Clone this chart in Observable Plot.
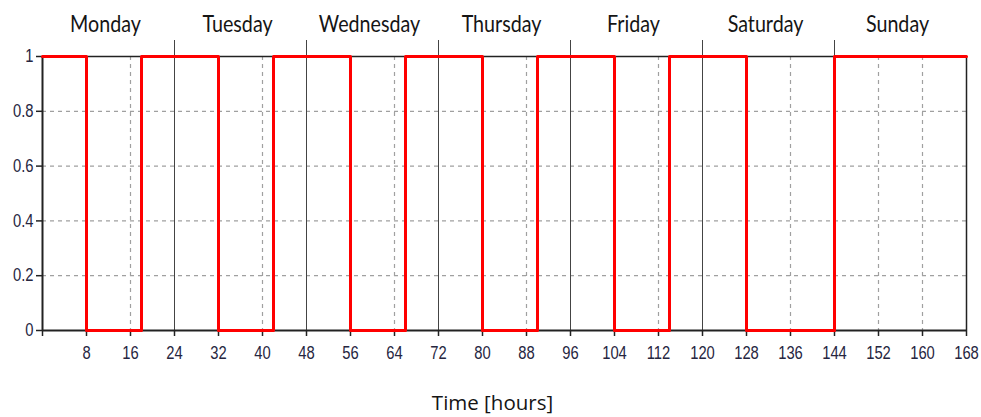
<!DOCTYPE html>
<html>
<head>
<meta charset="utf-8">
<script src="https://cdn.jsdelivr.net/npm/d3@7"></script>
<script src="https://cdn.jsdelivr.net/npm/@observablehq/plot@0.6"></script>
<style>
  html, body { margin: 0; padding: 0; background: #fff; }
  #chart svg { display: block; }
</style>
</head>
<body>
<div id="chart"></div>
<script>
// Schedule: hours where the state changes and the state held from that hour on
const changeHours = [0, 8, 18, 32, 42, 56, 66, 80, 90, 104, 114, 128, 144, 168];
const levels      = [1, 0, 1, 0, 1, 0, 1, 0, 1, 0, 1, 0, 1, 1];

const days = ["Monday", "Tuesday", "Wednesday", "Thursday", "Friday", "Saturday", "Sunday"];
const dayMid = [12, 36, 60, 84, 108, 132, 156];
const dayBounds = [24, 48, 72, 96, 120, 144];

const xTicks = [0, 8, 16, 24, 32, 40, 48, 56, 64, 72, 80, 88, 96, 104, 112, 120, 128, 136, 144, 152, 160, 168];
const xGridDashed = [8, 16, 32, 40, 56, 64, 80, 88, 104, 112, 128, 136, 152, 160];
const yTicks = [0, 0.2, 0.4, 0.6, 0.8, 1];
const yTickLabels = ["0", "0.2", "0.4", "0.6", "0.8", "1"];
const yGridDashed = [0.2, 0.4, 0.6, 0.8];
const xTitle = "Time [hours]";

const series = changeHours.map((h, i) => ({hour: h, value: levels[i]}));
const tickFont = "'Liberation Sans', Arial, sans-serif";
const dayFont = "Lato, 'Open Sans', sans-serif";
const titleFont = "'Open Sans', 'Noto Sans', sans-serif";
const tickColor = "#26263f";

const chart = Plot.plot({
  width: 981,
  height: 417,
  marginLeft: 42,
  marginRight: 15,
  marginTop: 56,
  marginBottom: 87,
  x: {domain: [0, 168]},
  y: {domain: [0, 1]},
  style: {background: "#fff", fontFamily: tickFont, overflow: "visible"},
  marks: [
    Plot.ruleY(yGridDashed, {stroke: "#a0a0a0", strokeWidth: 1.2, strokeDasharray: "4,4"}),
    Plot.ruleX(xGridDashed, {stroke: "#a0a0a0", strokeWidth: 1.2, strokeDasharray: "4,4"}),
    Plot.ruleX(dayBounds, {stroke: "#444", strokeWidth: 1, insetTop: -16}),
    Plot.ruleY([1], {stroke: "#222", strokeWidth: 1.5}),
    Plot.ruleX([168], {stroke: "#222", strokeWidth: 1.5}),
    Plot.ruleY([0], {stroke: "#222", strokeWidth: 2}),
    Plot.ruleX([0], {stroke: "#222", strokeWidth: 2}),
    Plot.axisX({
      ticks: xTicks, tickSize: 6, tickPadding: 10, tickFormat: d => d === 0 ? "" : String(d),
      fontSize: 18, label: null, stroke: "#222", strokeWidth: 1.5, fill: tickColor
    }),
    Plot.axisY({
      ticks: yTicks, tickSize: 6, tickPadding: 3, tickFormat: (d, i) => yTickLabels[i],
      fontSize: 18, label: null, stroke: "#222", strokeWidth: 1.5, fill: tickColor
    }),
    Plot.line(series, {x: "hour", y: "value", curve: "step-after", stroke: "#ff0000", strokeWidth: 3}),
    Plot.text(days, {
      x: (d, i) => dayMid[i], text: d => d, frameAnchor: "top", dy: -32, dx: -3,
      lineAnchor: "middle", fontSize: 24, fontFamily: dayFont, fill: "#151515"
    }),
    Plot.text([xTitle], {
      frameAnchor: "bottom", dy: 73, dx: -12, lineAnchor: "middle",
      fontSize: 20.5, fontFamily: titleFont, fill: "#151515"
    })
  ]
});
document.getElementById("chart").append(chart);

// The reference is horizontally compressed: narrow the glyphs of tick and day labels
chart.querySelectorAll("text").forEach(t => {
  if (t.textContent === xTitle || t.textContent === "") return;
  const w = t.getComputedTextLength();
  t.setAttribute("textLength", (w * 0.82).toFixed(2));
  t.setAttribute("lengthAdjust", "spacingAndGlyphs");
});
</script>
</body>
</html>
